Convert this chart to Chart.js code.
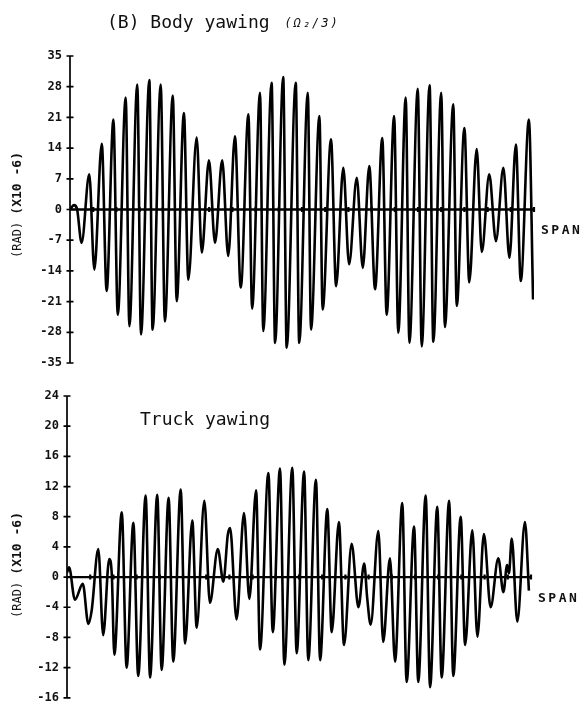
<!DOCTYPE html>
<html lang="en">
<head>
    <meta charset="UTF-8">
    <meta name="viewport" content="width=device-width, initial-scale=1.0">
    <title>Body and truck yawing</title>
    <script src="https://cdn.jsdelivr.net/npm/chart.js"></script>
    <style>
        html, body {
            margin: 0;
            padding: 0;
            background: #fff;
        }
        #page {
            position: relative;
            width: 585px;
            height: 713px;
            overflow: hidden;
        }
        #bodyChart {
            position: absolute;
            left: 0;
            top: 0;
        }
        #truckChart {
            position: absolute;
            left: 0;
            top: 380px;
        }
    </style>
</head>
<body>
    <div id="page">
        <canvas id="bodyChart" width="585" height="380"></canvas>
        <canvas id="truckChart" width="585" height="333"></canvas>
    </div>

    <script>
        // span position of each turning point of the traces, and the yaw value there (rad x 10^-6)
        const bodySpan = [
            0, 0.17, 0.30, 0.50, 0.83, 1.05, 1.37, 1.58, 1.87, 2.06,
            2.40, 2.56, 2.90, 3.06, 3.42, 3.56, 3.91, 4.09, 4.43, 4.60,
            4.91, 5.10, 5.46, 5.68, 5.99, 6.25, 6.56, 6.82, 7.11, 7.36,
            7.69, 7.85, 8.19, 8.33, 8.69, 8.84, 9.19, 9.34, 9.73, 9.88,
            10.25, 10.39, 10.75, 10.89, 11.25, 11.47, 11.78, 12.03, 12.36, 12.62,
            12.90, 13.15, 13.46, 13.65, 13.97, 14.15, 14.47, 14.63, 14.99, 15.16,
            15.50, 15.66, 16.00, 16.16, 16.52, 16.67, 17.00, 17.21, 17.53, 17.75,
            18.07, 18.36, 18.68, 18.94, 19.22, 19.43, 19.78, 19.96
        ];
        const bodyYaw = [
            0, 1.0, 0.2, -7.6, 8.0, -13.7, 15.0, -18.6, 20.5, -24.0,
            25.5, -26.6, 28.5, -28.5, 29.5, -27.4, 28.5, -25.5, 26.0, -20.9,
            22.0, -16.0, 16.4, -9.8, 11.2, -7.6, 11.2, -10.6, 16.7, -17.8,
            21.7, -22.6, 26.6, -27.7, 28.9, -30.4, 30.2, -31.5, 28.9, -30.4,
            26.6, -27.4, 21.3, -22.8, 16.0, -17.5, 9.5, -12.5, 7.2, -13.3,
            9.9, -18.2, 16.3, -24.0, 21.3, -28.1, 25.5, -30.4, 27.5, -31.2,
            28.3, -30.2, 26.6, -26.8, 24.0, -22.0, 18.6, -16.6, 13.8, -9.7,
            8.0, -7.2, 9.5, -11.0, 14.8, -16.3, 20.5, -20.5
        ];

        const truckSpan = [
            0, 0.09, 0.34, 0.68, 0.92, 1.06, 1.35, 1.56, 1.82, 1.93,
            2.04, 2.36, 2.57, 2.86, 3.07, 3.39, 3.58, 3.89, 4.08, 4.38,
            4.58, 4.90, 5.09, 5.40, 5.59, 5.92, 6.16, 6.50, 6.74, 6.93,
            7.03, 7.31, 7.63, 7.86, 8.15, 8.32, 8.68, 8.87, 9.18, 9.37,
            9.71, 9.90, 10.22, 10.40, 10.73, 10.91, 11.22, 11.41, 11.72, 11.94,
            12.27, 12.56, 12.81, 12.94, 13.09, 13.42, 13.63, 13.92, 14.14, 14.45,
            14.64, 14.96, 15.14, 15.46, 15.65, 15.96, 16.15, 16.47, 16.65, 16.97,
            17.16, 17.47, 17.69, 17.97, 18.26, 18.59, 18.81, 18.97, 19.05, 19.17,
            19.41, 19.74, 19.91
        ];
        const truckYaw = [
            0.6, 1.3, -3.0, -0.9, -6.2, -4.5, 3.7, -7.7, 2.4, 0.4,
            -10.3, 8.6, -12.0, 7.2, -13.1, 10.8, -13.3, 10.9, -12.3, 10.5,
            -11.2, 11.6, -8.8, 7.5, -6.7, 10.1, -3.4, 3.7, -0.6, 5.6,
            6.5, -5.6, 8.5, -2.9, 11.5, -9.6, 13.8, -7.3, 14.4, -11.6,
            14.5, -10.1, 14.0, -11.0, 12.9, -11.0, 9.0, -7.3, 7.3, -9.0,
            4.4, -4.0, 1.8, -2.8, -6.3, 6.1, -8.6, 2.5, -11.2, 9.8,
            -13.9, 6.7, -13.9, 10.8, -14.6, 9.3, -13.3, 10.1, -13.1, 8.0,
            -9.0, 6.2, -7.9, 5.7, -4.0, 2.5, -2.0, 1.6, 0.5, 5.1,
            -5.9, 7.3, -1.8
        ];

        // axis ranges and tick steps
        const bodyAxis = [-35, 35, 7];
        const truckAxis = [-16, 24, 4];
        const spanAxis = [0, 20];

        const MONO = '"DejaVu Sans Mono", "Liberation Mono", monospace';

        // hand-plotted look: crossed ticks on the yaw axis, dotted span axis at zero,
        // SPAN tag, rotated unit label and the panel heading
        const plotterFrame = {
            id: 'plotterFrame',
            afterDraw(chart, args, opts) {
                const { ctx, chartArea: a, scales: { x, y } } = chart;
                ctx.save();
                ctx.strokeStyle = '#000';
                ctx.fillStyle = '#111';

                ctx.lineWidth = 1.7;
                ctx.beginPath();
                ctx.moveTo(a.left, a.top);
                ctx.lineTo(a.left, a.bottom);
                y.ticks.forEach(t => {
                    const py = y.getPixelForValue(t.value);
                    ctx.moveTo(a.left - 3.5, py);
                    ctx.lineTo(a.left + 3.5, py);
                });
                ctx.stroke();

                const y0 = y.getPixelForValue(0);
                ctx.lineWidth = 2.3;
                ctx.beginPath();
                ctx.moveTo(a.left, y0);
                ctx.lineTo(a.right, y0);
                ctx.stroke();
                ctx.lineWidth = 2.2;
                ctx.beginPath();
                for (let s = spanAxis[0] + 1; s <= spanAxis[1]; s++) {
                    const px = x.getPixelForValue(s);
                    ctx.moveTo(px, y0 - 2.5);
                    ctx.lineTo(px, y0 + 2.5);
                }
                ctx.stroke();

                ctx.font = 'bold 13px ' + MONO;
                ctx.letterSpacing = '2.5px';
                ctx.textBaseline = 'middle';
                ctx.fillText('SPAN', a.right + 7, y0 + opts.spanDrop);
                ctx.letterSpacing = '0px';

                // rotated unit label
                ctx.save();
                ctx.translate(opts.unitX, opts.unitY);
                ctx.rotate(-Math.PI / 2);
                ctx.textBaseline = 'middle';
                ctx.font = '12px ' + MONO;
                const w1 = ctx.measureText('(RAD) ').width;
                ctx.font = 'bold 13px ' + MONO;
                const w2 = ctx.measureText('(X10 -6)').width;
                const tx = -(w1 + w2) / 2;
                ctx.font = '12px ' + MONO;
                ctx.fillText('(RAD) ', tx, 0);
                ctx.font = 'bold 13px ' + MONO;
                ctx.fillText('(X10 -6)', tx + w1, 0);
                ctx.restore();

                // heading
                ctx.textBaseline = 'alphabetic';
                ctx.font = '18px ' + MONO;
                ctx.fillText(opts.heading, opts.headX, opts.headY);
                if (opts.note) {
                    const hw = ctx.measureText(opts.heading + ' ').width;
                    ctx.font = 'italic 12px ' + MONO;
                    ctx.letterSpacing = '2px';
                    ctx.fillText(opts.note, opts.headX + hw + 4, opts.headY - 1);
                    ctx.letterSpacing = '0px';
                }
                ctx.restore();
            }
        };

        function makePanel(canvasId, spans, yaws, axis, frame, pad, axisWidth) {
            const points = spans.map((s, i) => ({ x: s, y: yaws[i] }));
            return new Chart(document.getElementById(canvasId), {
                type: 'line',
                data: {
                    datasets: [{
                        data: points,
                        borderColor: '#000',
                        borderWidth: 2.6,
                        pointRadius: 0,
                        cubicInterpolationMode: 'monotone',
                        fill: false
                    }]
                },
                options: {
                    responsive: false,
                    animation: false,
                    layout: { padding: pad },
                    scales: {
                        x: {
                            type: 'linear',
                            display: false,
                            min: spanAxis[0],
                            max: spanAxis[1]
                        },
                        y: {
                            min: axis[0],
                            max: axis[1],
                            afterFit(scale) { scale.width = axisWidth; },
                            grid: { display: false, drawTicks: false },
                            border: { display: false },
                            ticks: {
                                stepSize: axis[2],
                                padding: 8,
                                color: '#111',
                                font: { family: MONO, weight: 'bold', size: 12 }
                            }
                        }
                    },
                    plugins: {
                        legend: { display: false },
                        tooltip: { enabled: false },
                        plotterFrame: frame
                    }
                },
                plugins: [plotterFrame]
            });
        }

        makePanel('bodyChart', bodySpan, bodyYaw, bodyAxis, {
            heading: '(B) Body yawing',
            note: '(\u03A9\u2082/3)',
            headX: 107, headY: 28,
            unitX: 18, unitY: 205,
            spanDrop: 21
        }, { top: 56, bottom: 17, left: 0, right: 51 }, 70);

        makePanel('truckChart', truckSpan, truckYaw, truckAxis, {
            heading: 'Truck yawing',
            note: '',
            headX: 140, headY: 45,
            unitX: 18, unitY: 185,
            spanDrop: 22
        }, { top: 16, bottom: 7, left: 0, right: 54 }, 67);
    </script>
</body>
</html>
